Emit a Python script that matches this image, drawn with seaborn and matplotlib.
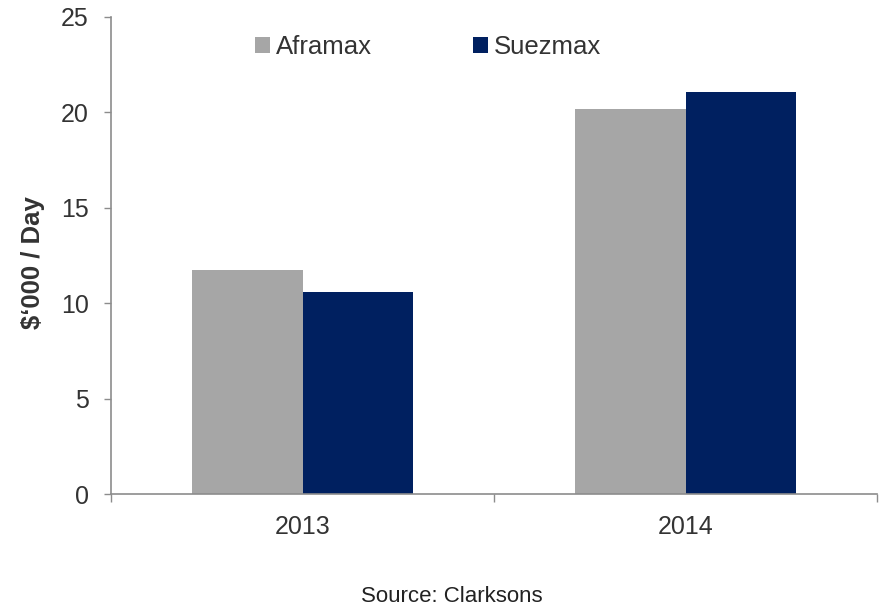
import matplotlib
matplotlib.use('Agg')
import matplotlib.pyplot as plt
import pandas as pd
import seaborn as sns

years = ['2013', '2014']
aframax = [11.75, 20.19]
suezmax = [10.58, 21.05]
series = ['Aframax', 'Suezmax']
colors = ['#A6A6A6', '#002060']
yticks = [0, 5, 10, 15, 20, 25]

df = pd.DataFrame({
    'year': years * 2,
    'value': aframax + suezmax,
    'vessel': [series[0]] * len(years) + [series[1]] * len(years),
})

sns.set_style('white')
plt.rcParams['font.family'] = ['Liberation Sans', 'DejaVu Sans']
text_col = '#333333'
axis_col = '#8C8C8C'

fig = plt.figure(figsize=(8.81, 6.06), dpi=100)
ax = fig.add_axes([0.126, 0.184, 0.8695, 0.788])

sns.barplot(data=df, x='year', y='value', hue='vessel', palette=colors,
            width=0.575, gap=0, saturation=1, ax=ax, linewidth=0)

ax.set_xlim(-0.5, 1.5)
ax.set_ylim(0, 25)
ax.set_yticks(yticks)
ax.set_xlabel('')
ax.set_ylabel('$\u2018000 / Day', fontsize=18.5, fontweight='bold', color=text_col)
ax.yaxis.set_label_coords(-0.086, 0.485)

for s in ['top', 'right']:
    ax.spines[s].set_visible(False)
for s in ['left', 'bottom']:
    ax.spines[s].set_color(axis_col)
    ax.spines[s].set_linewidth(1.2)

ax.tick_params(axis='y', length=5, width=1, color=axis_col, labelsize=18,
               labelcolor=text_col, pad=11, left=True)
ax.tick_params(axis='x', which='major', length=0, labelsize=18,
               labelcolor=text_col, pad=15)
ax.set_xticks([-0.5, 0.5, 1.5], minor=True)
ax.tick_params(axis='x', which='minor', length=6, width=1, color=axis_col, bottom=True)

ax.legend(loc='center left', bbox_to_anchor=(0.275, 0.923), bbox_transform=fig.transFigure,
          ncol=2, frameon=False, fontsize=18.5, handlelength=0.58, handleheight=0.58,
          handletextpad=0.25, columnspacing=3.9, borderpad=0, labelcolor=text_col)

fig.text(0.513, 0.006, 'Source: Clarksons', ha='center', va='baseline',
         fontsize=16, color='#222222')

fig.savefig('out.png', dpi=100)
